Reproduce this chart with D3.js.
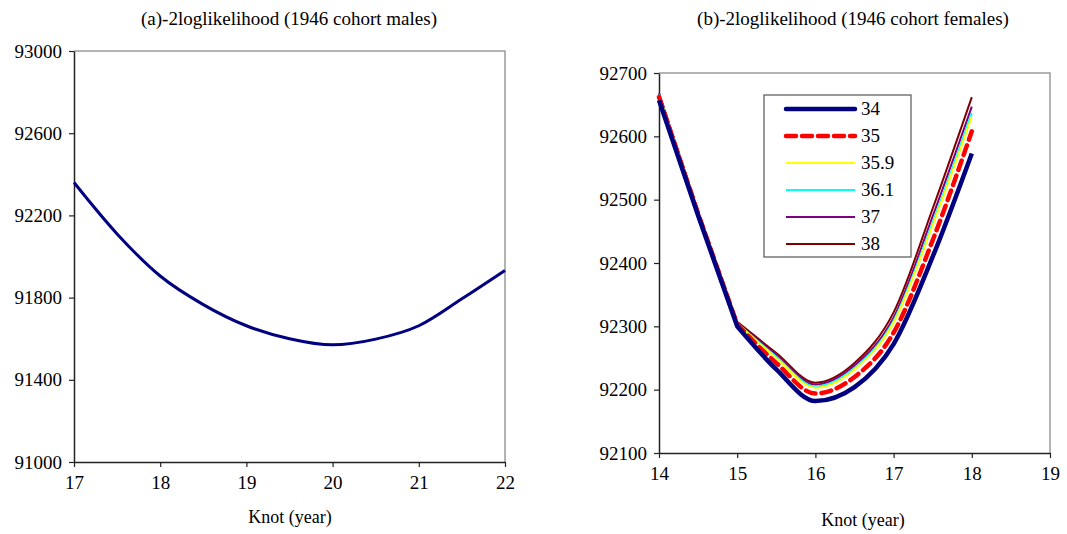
<!DOCTYPE html>
<html>
<head>
<meta charset="utf-8">
<script src="https://cdn.jsdelivr.net/npm/d3@7"></script>
<style>
  body { margin: 0; background: #fff; }
  svg text { font-family: "Liberation Serif", "Times New Roman", Tinos, "DejaVu Serif", serif; fill: #000; }
</style>
</head>
<body>
<svg id="chart" width="1067" height="534"></svg>
<script>
// panel (a): males
var maleKnots = [17, 17.5, 18, 18.5, 19, 19.5, 20, 20.5, 21, 21.5, 22];
var maleLL = [92360, 92110, 91905, 91766, 91663, 91600, 91570, 91598, 91663, 91794, 91932];
var maleXTicks = [17, 18, 19, 20, 21, 22];
var maleYTicks = [91000, 91400, 91800, 92200, 92600, 93000];

// panel (b): females, one series per knot value in legend
var femaleKnots = [14, 14.5, 15, 15.5, 16, 16.5, 17, 17.5, 18];
var seriesNames = ["34", "35", "35.9", "36.1", "37", "38"];
var ll34 = [92657, 92475, 92300, 92232, 92182, 92204, 92272, 92410, 92573];
var ll35 = [92662, 92478, 92303, 92242, 92194, 92220, 92290, 92436, 92608];
var ll359 = [92665, 92480, 92305, 92250, 92203, 92232, 92306, 92460, 92631];
var ll361 = [92666, 92480, 92305, 92252, 92205, 92234, 92309, 92464, 92637];
var ll37 = [92667, 92481, 92306, 92255, 92208, 92238, 92314, 92474, 92647];
var ll38 = [92668, 92482, 92307, 92258, 92211, 92242, 92322, 92486, 92662];
var femaleXTicks = [14, 15, 16, 17, 18, 19];
var femaleYTicks = [92100, 92200, 92300, 92400, 92500, 92600, 92700];

var svg = d3.select("#chart");
var serif = "'Liberation Serif', 'Times New Roman', Tinos, 'DejaVu Serif', serif";

function drawPanel(opt) {
    var g = svg.append("g");
    var x = d3.scaleLinear().domain(opt.xDomain).range([opt.left, opt.right]);
    var y = d3.scaleLinear().domain(opt.yDomain).range([opt.bottom, opt.top]);

    // gray frame on top / right
    g.append("path")
        .attr("d", "M" + opt.left + "," + opt.top + "H" + opt.right + "V" + opt.bottom)
        .attr("fill", "none")
        .attr("stroke", "#9a9a9a")
        .attr("stroke-width", 1.5);

    var yAxis = d3.axisLeft(y).tickValues(opt.yTicks).tickSize(5).tickSizeOuter(0)
        .tickPadding(7).tickFormat(d3.format("d"));
    var xAxis = d3.axisBottom(x).tickValues(opt.xTicks).tickSize(5).tickSizeOuter(0)
        .tickPadding(opt.xPad).tickFormat(d3.format("d"));

    var ya = g.append("g").attr("transform", "translate(" + opt.left + ",0)").call(yAxis);
    var xa = g.append("g").attr("transform", "translate(0," + opt.bottom + ")").call(xAxis);
    [ya, xa].forEach(function (a) {
        a.attr("font-family", serif);
        a.select(".domain").attr("stroke", "#222").attr("stroke-width", 1.5);
        a.selectAll(".tick line").attr("stroke", "#222").attr("stroke-width", 1.2);
        a.selectAll(".tick text").style("font-size", "19px")
            .style("font-family", serif).attr("fill", "#000");
    });

    g.append("text")
        .attr("x", opt.titleX).attr("y", 25)
        .attr("text-anchor", "middle")
        .style("font-size", "19px")
        .style("font-family", serif)
        .text(opt.title);

    g.append("text")
        .attr("x", opt.xLabelX).attr("y", opt.xLabelY)
        .attr("text-anchor", "middle")
        .style("font-size", "18px")
        .style("font-family", serif)
        .text("Knot (year)");

    return { g: g, x: x, y: y };
}

// ---- panel (a)
var pa = drawPanel({
    left: 74, right: 505, top: 51, bottom: 462,
    xDomain: [17, 22], yDomain: [91000, 93000],
    xTicks: maleXTicks, yTicks: maleYTicks, xPad: 9,
    title: "(a)-2loglikelihood (1946 cohort males)", titleX: 289,
    xLabelX: 290, xLabelY: 523
});

var lineA = d3.line()
    .x(function (d, i) { return pa.x(maleKnots[i]); })
    .y(function (d) { return pa.y(d); })
    .curve(d3.curveMonotoneX);

pa.g.append("path")
    .datum(maleLL)
    .attr("d", lineA)
    .attr("fill", "none")
    .attr("stroke", "#000080")
    .attr("stroke-width", 3);

// ---- panel (b)
var pb = drawPanel({
    left: 659, right: 1050, top: 73, bottom: 453,
    xDomain: [14, 19], yDomain: [92100, 92700],
    xTicks: femaleXTicks, yTicks: femaleYTicks, xPad: 9,
    title: "(b)-2loglikelihood (1946 cohort females)", titleX: 853,
    xLabelX: 863, xLabelY: 526
});

var femaleSeries = [ll34, ll35, ll359, ll361, ll37, ll38];
var colors = ["#000080", "#ff0000", "#ffff00", "#00ffff", "#800080", "#800000"];
var widths = [4.5, 4.5, 2, 2, 2, 2];
var dashes = [null, "10,6", null, null, null, null];

// the descent 14-15 is nearly straight with a kink at 15, the rest is smooth
var kink = femaleKnots.indexOf(15);
var lineB = d3.line()
    .x(function (d) { return pb.x(d[0]); })
    .y(function (d) { return pb.y(d[1]); })
    .curve(d3.curveMonotoneX);

function seriesPath(vals) {
    var pts = femaleKnots.map(function (k, i) { return [k, vals[i]]; });
    var first = d3.line().x(function (d) { return pb.x(d[0]); })
        .y(function (d) { return pb.y(d[1]); })(pts.slice(0, kink + 1));
    var rest = lineB(pts.slice(kink));
    return first + "L" + rest.slice(1);
}

// draw back to front so 34 ends up on top like the reference
var order = [5, 4, 3, 2, 1, 0];
order.forEach(function (k) {
    pb.g.append("path")
        .attr("d", seriesPath(femaleSeries[k]))
        .attr("fill", "none")
        .attr("stroke", colors[k])
        .attr("stroke-width", widths[k])
        .attr("stroke-linejoin", "round")
        .attr("stroke-linecap", k == 1 ? "round" : "butt")
        .attr("stroke-dasharray", dashes[k]);
});

// legend
var leg = pb.g.append("g").attr("transform", "translate(764,95)");
leg.append("rect")
    .attr("width", 147).attr("height", 162)
    .attr("fill", "#fff")
    .attr("stroke", "#555").attr("stroke-width", 1.2);

seriesNames.forEach(function (name, i) {
    var yy = 14 + i * 27;
    leg.append("line")
        .attr("x1", 22).attr("x2", 91)
        .attr("y1", yy).attr("y2", yy)
        .attr("stroke", colors[i])
        .attr("stroke-width", widths[i])
        .attr("stroke-linecap", i < 2 ? "round" : "butt")
        .attr("stroke-dasharray", dashes[i]);
    leg.append("text")
        .attr("x", 97).attr("y", yy + 6)
        .style("font-size", "19px")
        .style("font-family", serif)
        .text(name);
});
</script>
</body>
</html>
